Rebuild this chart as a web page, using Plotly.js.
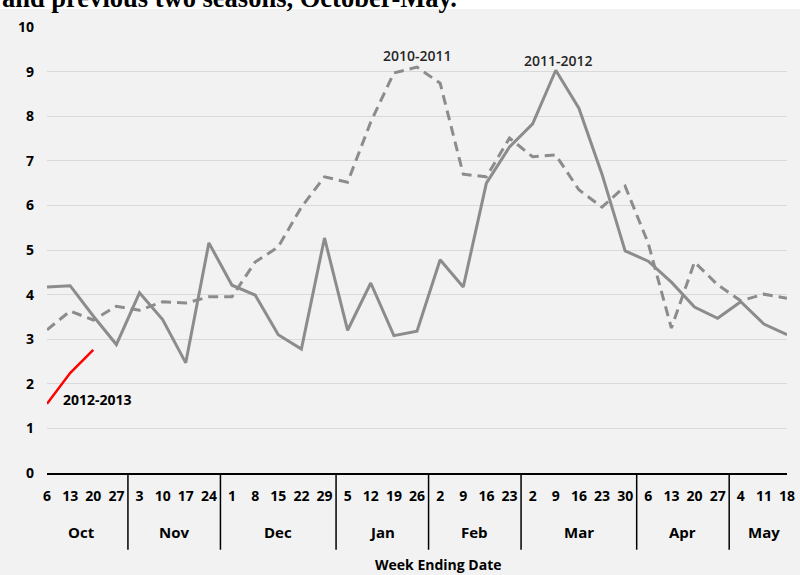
<!DOCTYPE html>
<html>
<head>
<meta charset="utf-8">
<script src="https://cdn.plot.ly/plotly-3.0.1.min.js"></script>
<style>html,body{margin:0;padding:0;background:#f2f2f2;}#chart{width:800px;height:575px;}</style>
</head>
<body>
<div id="chart"></div>
<script>
// Week-ending day numbers, October through May
const days = [6,13,20,27, 3,10,17,24, 1,8,15,22,29, 5,12,19,26, 2,9,16,23, 2,9,16,23,30, 6,13,20,27, 4,11,18];
const months = ['Oct','Nov','Dec','Jan','Feb','Mar','Apr','May'];
const weeksPerMonth = [4,4,5,4,4,5,4,3];

const season2011_2012 = [4.17,4.20,3.52,2.88,4.04,3.44,2.47,5.16,4.21,3.99,3.10,2.78,5.27,3.20,4.26,3.08,3.18,4.78,4.17,6.50,7.31,7.83,9.03,8.18,6.70,4.98,4.75,4.28,3.72,3.47,3.84,3.34,3.10];
const season2010_2011 = [3.21,3.63,3.43,3.74,3.65,3.84,3.81,3.95,3.95,4.73,5.07,5.96,6.64,6.52,7.87,8.97,9.10,8.74,6.70,6.64,7.51,7.09,7.13,6.35,5.96,6.43,5.15,3.25,4.73,4.22,3.86,4.01,3.92];
const season2012_2013 = [1.55,2.24,2.76];

const yTicks = [0,1,2,3,4,5,6,7,8,9,10];

const xIdx = days.map((d,i)=>i);
const font = 'Open Sans, Liberation Sans, sans-serif';

const traces = [
  {x: xIdx, y: season2010_2011, type:'scatter', mode:'lines', name:'2010-2011',
   line:{color:'#8c8c8c', width:3, dash:'10px,6px'}, hoverinfo:'skip'},
  {x: xIdx, y: season2011_2012, type:'scatter', mode:'lines', name:'2011-2012',
   line:{color:'#8c8c8c', width:3}, hoverinfo:'skip'},
  {x: xIdx.slice(0, season2012_2013.length), y: season2012_2013, type:'scatter', mode:'lines', name:'2012-2013',
   line:{color:'#ff0000', width:2.5}, hoverinfo:'skip'}
];

const shapes = [
  {type:'rect', xref:'paper', yref:'paper', x0:-0.1, x1:1.1, y0:1.0404, y1:1.1, fillcolor:'#ffffff', line:{width:0}, layer:'below'}
];
const annotations = [];
let start = 0;
weeksPerMonth.forEach((n, m) => {
  const end = start + n - 1;
  annotations.push({xref:'x', yref:'paper', x:(start+end)/2, y:-0.132, text:'<b>'+months[m]+'</b>',
    showarrow:false, font:{family:font, size:15, color:'#000'}, xanchor:'center', yanchor:'middle'});
  if (m < weeksPerMonth.length - 1) {
    shapes.push({type:'line', xref:'x', yref:'paper', x0:end+0.5, x1:end+0.5, y0:0, y1:-0.172,
      line:{color:'#000', width:1.5}});
  }
  start += n;
});

annotations.push(
  {xref:'paper', yref:'paper', x:(438-47)/740, y:-0.206, text:'<b>Week Ending Date</b>', showarrow:false,
   font:{family:font, size:14, color:'#000'}, xanchor:'center', yanchor:'middle'},
  {xref:'x', yref:'y', x:16, y:9.37, text:'2010-2011', showarrow:false,
   font:{family:font, size:14, color:'#262626', weight:600}, xanchor:'center', yanchor:'middle'},
  {xref:'x', yref:'y', x:22.14, y:9.26, text:'2011-2012', showarrow:false,
   font:{family:font, size:14, color:'#262626', weight:600}, xanchor:'center', yanchor:'middle'},
  {xref:'x', yref:'y', x:0.62, y:1.64, text:'<b>2012-2013</b>', showarrow:false,
   font:{family:font, size:14, color:'#000'}, xanchor:'left', yanchor:'middle'},
  {xref:'paper', yref:'paper', x:-47/740, y:(473-7)/446, text:'<b>and previous two seasons, October-May.</b>', showarrow:false,
   font:{family:'Liberation Serif, Times New Roman, serif', size:26.5, color:'#000'}, xanchor:'left', yanchor:'bottom', yshift:-8}
);

const layout = {
  width:800, height:575,
  margin:{l:47, r:13, t:27, b:102},
  paper_bgcolor:'#f2f2f2', plot_bgcolor:'#f2f2f2',
  showlegend:false,
  xaxis:{range:[0,32], tickvals:xIdx, ticktext:days.map(d=>'<b>'+d+'</b>'),
    showgrid:false, zeroline:false, showline:true, linecolor:'#000', linewidth:1.5,
    ticks:'', ticklabelstandoff:10, tickfont:{family:font, size:14, color:'#000'}, fixedrange:true},
  yaxis:{range:[0,10], tickvals:yTicks, ticktext:yTicks.map(v=>'<b>'+v+'</b>'),
    showgrid:true, gridcolor:'#d9d9d9', gridwidth:1, zeroline:false, showline:false,
    ticks:'', ticklabelstandoff:12, tickfont:{family:font, size:14, color:'#000'}, fixedrange:true},
  shapes: shapes,
  annotations: annotations
};

Plotly.newPlot('chart', traces, layout, {staticPlot:true, displayModeBar:false});
</script>
</body>
</html>
